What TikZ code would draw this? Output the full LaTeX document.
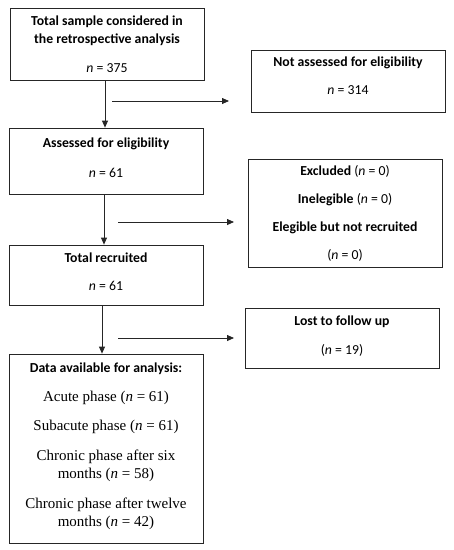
\documentclass[tikz,border=0pt]{standalone}
\usepackage{fontspec}
\setmainfont{Carlito}
\newfontfamily\tnr{Liberation Serif}
\usetikzlibrary{arrows.meta}
\newcommand{\dpx}[1]{\rule[-#1]{0pt}{#1}}
\begin{document}
\begin{tikzpicture}[x=1pt,y=-1pt,
  box/.style={draw=black!85,line width=0.8pt,minimum width=194pt,inner sep=0pt,align=center,
    font=\fontsize{13.75}{18}\selectfont},
  arr/.style={line width=0.8pt,draw=black!85,-{Triangle[length=7pt,width=6pt]}}]
\useasboundingbox (0,0) rectangle (454,550);
\node[box,minimum height=72pt] (b1) at (107,44) {\textbf{Total sample considered in}\\\textbf{the retrospective analysis}\\[11pt]\textit{n} = 375};
\node[box,minimum height=62pt] (na) at (348,81) {\textbf{Not assessed for eligibility}\\[10pt]\textit{n} = 314\dpx{10pt}};
\node[box,minimum height=66pt] (b2) at (106,161) {\textbf{Assessed for eligibility}\\[12pt]\textit{n} = 61\dpx{6pt}};
\node[box,minimum height=108pt] (ex) at (345,213) {\textbf{Excluded} (\textit{n} = 0)\\[10pt]\textbf{Inelegible} (\textit{n} = 0)\\[10pt]\textbf{Elegible but not recruited}\\[10pt](\textit{n} = 0)};
\node[box,minimum height=60pt] (b3) at (106,275) {\textbf{Total recruited}\\[10pt]\textit{n} = 61\dpx{6pt}};
\node[box,minimum height=60pt] (lo) at (342,338) {\textbf{Lost to follow up}\\[11pt](\textit{n} = 19)\dpx{5pt}};
\node[box,minimum height=189pt] (b4) at (106,448.5) {\textbf{Data available for analysis:}\\[11pt]
  {\tnr\fontsize{15}{18}\selectfont Acute phase (\textit{n} = 61)}\\[11pt]
  {\tnr\fontsize{15}{18}\selectfont Subacute phase (\textit{n} = 61)}\\[12pt]
  {\tnr\fontsize{15}{18}\selectfont Chronic phase after six}\\
  {\tnr\fontsize{15}{18}\selectfont months (\textit{n} = 58)}\\[12pt]
  {\tnr\fontsize{15}{18}\selectfont Chronic phase after twelve}\\
  {\tnr\fontsize{15}{18}\selectfont months (\textit{n} = 42)\dpx{8pt}}};
\coordinate (h1s) at (112,101); \coordinate (h1e) at (229,101);
\coordinate (h2s) at (118,222); \coordinate (h2e) at (234,222);
\coordinate (h3s) at (118,338); \coordinate (h3e) at (234,338);
\draw[arr] ([xshift=-2pt]b1.south) -- ([xshift=-1pt]b2.north);
\draw[arr] ([xshift=-2pt]b2.south) -- ([xshift=-2pt]b3.north);
\draw[arr] ([xshift=-4pt]b3.south) -- ([xshift=-4pt]b4.north);
\draw[arr] (h1s) -- (h1e);
\draw[arr] (h2s) -- (h2e);
\draw[arr] (h3s) -- (h3e);
\end{tikzpicture}
\end{document}
